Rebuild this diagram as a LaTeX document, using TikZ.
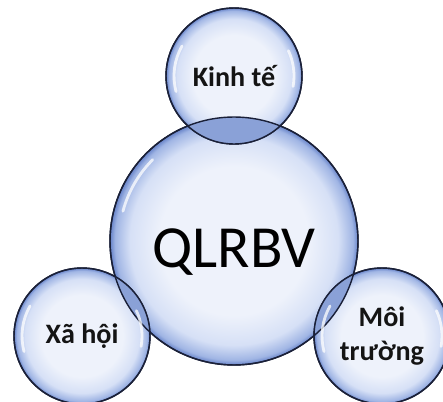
\documentclass[tikz,border=0pt]{standalone}
\usepackage{fontspec}
\setmainfont{Carlito}

\definecolor{bubin}{RGB}{238,242,251}
\definecolor{bubmid}{RGB}{214,224,246}
\definecolor{bubrim}{RGB}{160,181,228}
\definecolor{bubedge}{RGB}{102,130,200}
\definecolor{lensblue}{RGB}{138,161,215}
\definecolor{rimline}{RGB}{26,32,56}
\pgfdeclareradialshading{bubble}{\pgfpoint{0bp}{0bp}}{color(0bp)=(bubin); color(15bp)=(bubin); color(21bp)=(bubmid); color(24bp)=(bubrim); color(25bp)=(bubedge); color(50bp)=(bubedge)}

\tikzset{
	bigbub/.style={circle, shading=bubble, draw=rimline, line width=0.8pt, minimum size=4.96cm, inner sep=0pt},
	smallbub/.style={bigbub, minimum size=2.72cm},
	lbl/.style={font=\fontsize{16}{19}\selectfont\bfseries, text=black!92, align=center},
	shine/.style={white, line width=1.6pt, opacity=0.75, line cap=round}
}

\begin{document}
\begin{tikzpicture}[x=0.02cm, y=-0.02cm]
	\useasboundingbox (0,0) rectangle (443,402);

	\node[bigbub, font=\fontsize{34}{40}\selectfont, text height=29.6pt, text depth=0pt] (qlrbv) at (234,241) {QLRBV};
	\node[smallbub, lbl] (kinhte) at (234,76) {Kinh tế};
	\node[smallbub, lbl] (xahoi) at (82,336) {Xã hội};
	\node[smallbub, lbl] (moitruong) at (382,336) {Môi\\trường};

	\begin{scope}
		\clip (qlrbv.center) circle [radius=2.48cm];
		\foreach \n in {kinhte, xahoi, moitruong}
			\fill[lensblue] (\n.center) circle [radius=1.36cm];
	\end{scope}

	\draw[rimline, line width=0.8pt] (qlrbv.center) circle [radius=2.48cm];
	\foreach \n in {kinhte, xahoi, moitruong}
		\draw[rimline, line width=0.8pt] (\n.center) circle [radius=1.36cm];

	\foreach \n in {kinhte, xahoi, moitruong} {
		\draw[shine] ([shift={(150:1.2cm)}]\n.center) arc [start angle=150, end angle=195, radius=1.2cm];
		\draw[shine] ([shift={(-10:1.2cm)}]\n.center) arc [start angle=-10, end angle=25, radius=1.2cm];
	}
	\draw[shine] ([shift={(135:2.3cm)}]qlrbv.center) arc [start angle=135, end angle=165, radius=2.3cm];
\end{tikzpicture}
\end{document}
